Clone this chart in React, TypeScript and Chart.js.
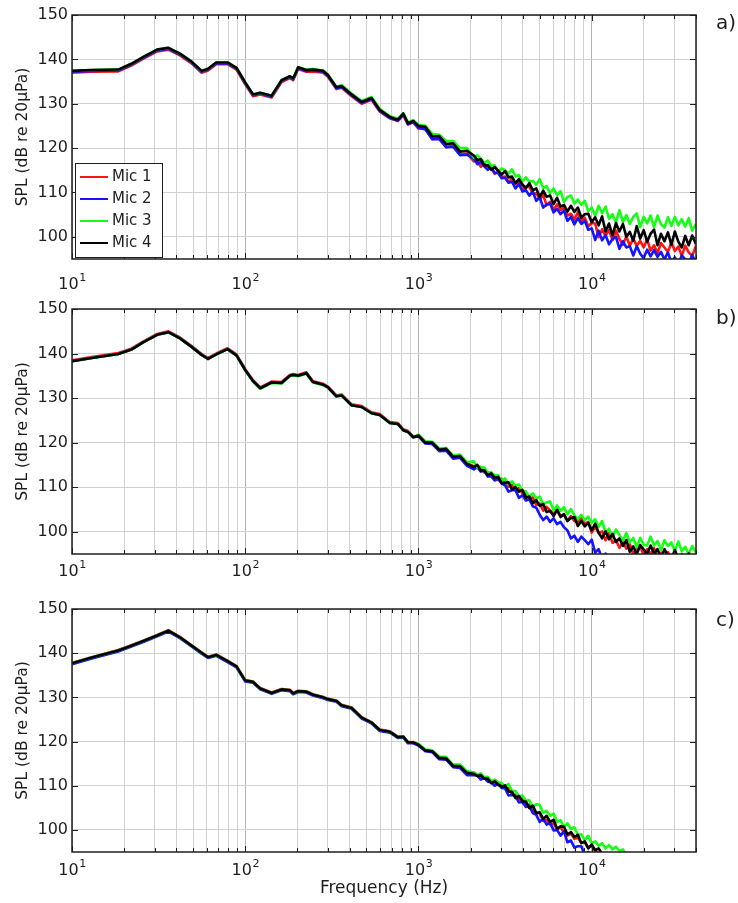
import React, { useEffect, useRef } from "react";
import { Chart, registerables } from "chart.js";

Chart.register(...registerables);

const FONT = "'DejaVu Sans', 'Liberation Sans', Arial, sans-serif";
const TEXT = "#1e1e1e";

// ---------- data ----------
const FREQ_HZ = [
  10, 13, 18.5, 22, 26, 31, 36, 42, 49, 56,
  61, 68, 79, 89, 100, 111, 122, 142, 162, 181,
  189, 202, 225, 246, 282, 300, 336, 360, 411, 470,
  536, 598, 684, 760, 817, 870, 933, 1000, 1096, 1202,
  1318, 1445, 1585, 1738, 1905,
  2089, 2188, 2291, 2399, 2512, 2630, 2754, 2884, 3020, 3162,
  3311, 3467, 3631, 3802, 3981, 4169, 4365, 4571, 4786, 5012,
  5248, 5495, 5754, 6026, 6310, 6607, 6918, 7244, 7586, 7943,
  8318, 8710, 9120, 9550, 10000, 10471, 10965, 11482, 12023, 12589,
  13183, 13804, 14454, 15136, 15849, 16596, 17378, 18197, 19055, 19953,
  20893, 21878, 22909, 23988, 25119, 26303, 27542, 28840, 30200, 31623,
  33113, 34674, 36308, 38019, 40000,
];

const MIC_LABELS = ["Mic 1", "Mic 2", "Mic 3", "Mic 4"];
const MIC_COLORS = ["#ff1414", "#1414ff", "#14ff14", "#000000"];

// Panel a)
const A_MIC1 = [
  137.0, 137.2, 137.3, 138.6, 140.2, 141.8, 142.2, 140.9, 139.1, 137.0,
  137.5, 138.9, 138.9, 137.7, 134.4, 131.7, 132.1, 131.4, 134.9, 135.8,
  135.3, 137.8, 137.2, 137.3, 137.0, 136.1, 133.3, 133.6, 131.7, 130.0,
  130.9, 128.2, 126.7, 126.1, 127.4, 125.3, 125.8, 124.4, 124.4, 122.0,
  122.2, 120.2, 120.6, 118.6, 118.8,
  117.0, 117.1, 115.8, 116.5, 115.4, 115.5, 114.2, 114.8, 113.4, 113.6,
  112.3, 113.2, 111.9, 112.5, 110.6, 111.2, 111.3, 109.7, 109.8, 108.5,
  109.4, 107.1, 107.9, 106.0, 107.3, 106.0, 106.6, 104.8, 105.2, 103.9,
  105.5, 103.6, 104.3, 102.4, 103.1, 103.0, 99.9, 101.7, 100.2, 101.6,
  99.3, 101.4, 99.5, 98.2, 100.1, 98.0, 99.6, 98.0, 99.1, 97.6,
  99.4, 96.9, 98.1, 96.3, 98.6, 97.6, 96.6, 98.7, 96.8, 97.8,
  95.7, 98.0, 96.5, 95.7, 98.0,
];
const A_MIC2 = [
  137.2, 137.4, 137.5, 138.8, 140.4, 142.0, 142.4, 141.1, 139.3, 137.2,
  137.7, 139.1, 139.1, 137.9, 134.6, 131.9, 132.3, 131.6, 135.1, 136.0,
  135.5, 138.0, 137.4, 137.5, 137.2, 136.3, 133.5, 133.8, 131.9, 130.2,
  131.1, 128.4, 126.8, 126.2, 127.6, 125.4, 125.9, 124.6, 124.2, 122.0,
  122.0, 120.2, 120.3, 118.4, 118.5,
  117.6, 116.4, 116.9, 115.9, 115.1, 115.7, 114.4, 114.4, 113.2, 113.3,
  112.2, 112.4, 110.9, 111.9, 110.2, 110.5, 109.3, 110.2, 108.1, 108.9,
  106.6, 107.3, 107.5, 105.5, 106.3, 105.1, 105.9, 103.6, 104.5, 102.8,
  104.2, 102.9, 103.6, 101.6, 101.9, 99.3, 101.4, 99.2, 100.4, 98.3,
  99.5, 100.0, 97.3, 99.0, 97.6, 97.9, 95.8, 97.9, 96.2, 95.2,
  97.1, 95.6, 97.0, 95.5, 96.6, 94.9, 96.5, 94.2, 95.4, 93.7,
  95.8, 94.9, 93.9, 95.9, 94.1,
];
const A_MIC3 = [
  137.4, 137.6, 137.7, 139.0, 140.6, 142.2, 142.6, 141.3, 139.5, 137.4,
  137.9, 139.3, 139.3, 138.1, 134.8, 132.1, 132.5, 131.8, 135.3, 136.2,
  135.7, 138.2, 137.7, 137.8, 137.5, 136.6, 133.8, 134.2, 132.3, 130.6,
  131.5, 128.8, 127.2, 126.6, 127.9, 125.8, 126.3, 125.2, 125.0, 123.2,
  123.0, 121.6, 121.6, 120.0, 120.0,
  117.8, 118.4, 117.6, 116.7, 117.2, 116.0, 116.1, 114.8, 115.4, 115.0,
  114.2, 115.2, 113.6, 113.9, 112.4, 113.4, 112.4, 112.6, 111.7, 113.0,
  111.0, 111.4, 109.8, 110.9, 109.4, 110.3, 107.9, 109.0, 109.3, 107.5,
  108.4, 107.2, 108.1, 105.8, 106.6, 104.7, 107.0, 105.3, 106.8, 104.1,
  105.1, 103.2, 106.0, 103.3, 104.9, 102.9, 104.5, 105.3, 102.2, 104.5,
  103.0, 104.8, 102.2, 104.8, 102.8, 102.1, 104.4, 102.5, 104.5, 102.6,
  104.0, 102.3, 104.2, 101.4, 102.9,
];
const A_MIC4 = [
  137.4, 137.6, 137.7, 139.0, 140.6, 142.2, 142.6, 141.3, 139.5, 137.4,
  137.9, 139.3, 139.3, 138.1, 134.8, 132.1, 132.5, 131.8, 135.3, 136.2,
  135.7, 138.2, 137.6, 137.7, 137.4, 136.5, 133.7, 134.0, 132.1, 130.4,
  131.3, 128.6, 127.0, 126.4, 127.8, 125.6, 126.1, 125.0, 124.8, 122.6,
  122.7, 120.9, 121.1, 119.2, 119.4,
  118.3, 117.3, 117.5, 116.1, 116.2, 115.1, 115.7, 114.9, 114.0, 114.8,
  113.4, 113.6, 112.1, 113.0, 111.8, 111.0, 112.1, 110.5, 110.9, 109.0,
  110.4, 109.0, 109.3, 107.4, 108.8, 106.8, 107.2, 105.7, 107.0, 105.6,
  106.6, 104.3, 105.1, 105.2, 103.3, 104.4, 102.6, 104.6, 101.2, 103.0,
  100.3, 103.1, 101.2, 102.9, 100.0, 101.1, 99.1, 102.4, 99.6, 101.5,
  98.9, 100.7, 101.6, 98.1, 100.7, 99.0, 101.0, 98.2, 101.2, 98.9,
  97.6, 100.2, 98.1, 100.3, 98.3,
];

// Panel b)
const B_MIC1 = [
  138.5, 139.2, 140.1, 141.1, 142.8, 144.4, 145.0, 143.6, 141.7, 139.9,
  139.0, 140.0, 141.2, 139.8, 136.5, 134.0, 132.4, 133.7, 133.6, 135.2,
  135.4, 135.2, 135.8, 133.8, 133.2, 132.6, 130.6, 130.8, 128.6, 128.2,
  126.8, 126.4, 124.6, 124.4, 123.0, 122.6, 121.4, 121.5, 120.1, 119.9,
  118.5, 118.5, 116.9, 116.9, 115.3,
  114.7, 114.7, 114.5, 113.3, 113.4, 112.6, 112.7, 111.6, 111.9, 110.9,
  110.1, 110.5, 109.4, 109.8, 108.6, 108.7, 107.5, 107.7, 106.0, 106.3,
  104.7, 105.6, 104.8, 103.9, 104.9, 103.6, 103.9, 102.5, 103.5, 102.4,
  102.2, 103.3, 101.8, 102.2, 99.8, 101.1, 99.7, 100.1, 98.1, 99.7,
  97.5, 98.1, 96.4, 97.8, 96.2, 97.2, 95.0, 96.1, 96.7, 94.8,
  96.1, 95.0, 96.3, 94.2, 95.3, 93.7, 95.4, 94.3, 95.3, 93.5,
  94.2, 92.9, 94.9, 93.1, 94.2,
];
const B_MIC2 = [
  138.3, 139.0, 139.9, 140.9, 142.6, 144.2, 144.8, 143.4, 141.5, 139.7,
  138.8, 139.8, 141.0, 139.6, 136.3, 133.8, 132.2, 133.5, 133.4, 135.0,
  135.2, 135.0, 135.6, 133.6, 133.0, 132.4, 130.4, 130.6, 128.4, 128.0,
  126.6, 126.2, 124.4, 124.2, 122.8, 122.4, 121.2, 121.4, 119.8, 119.7,
  118.1, 118.2, 116.4, 116.6, 114.8,
  114.0, 114.5, 113.5, 113.7, 112.4, 112.4, 111.5, 111.9, 110.8, 110.4,
  109.0, 109.3, 109.3, 107.6, 108.2, 107.0, 107.3, 105.7, 105.4, 103.8,
  102.6, 103.4, 102.2, 103.0, 101.7, 102.2, 101.0, 100.3, 98.5, 99.1,
  97.7, 98.9, 98.1, 97.2, 98.2, 95.3, 96.1, 94.0, 95.1, 93.3,
  94.0, 92.7, 93.3, 92.5, 92.1, 91.7, 91.6, 91.4, 91.3, 91.1,
  91.0, 90.8, 90.7, 90.6, 90.4, 90.3, 90.1, 90.0, 89.8, 89.7,
  89.6, 89.4, 89.3, 89.1, 89.0,
];
const B_MIC3 = [
  138.3, 139.0, 139.9, 140.9, 142.6, 144.2, 144.8, 143.4, 141.5, 139.7,
  138.8, 139.8, 141.0, 139.6, 136.2, 133.7, 132.1, 133.4, 133.3, 134.9,
  135.1, 134.9, 135.5, 133.5, 132.9, 132.3, 130.4, 130.6, 128.4, 128.0,
  126.6, 126.2, 124.4, 124.2, 122.8, 122.4, 121.2, 121.8, 120.3, 120.2,
  118.7, 118.8, 117.1, 117.3, 115.6,
  115.8, 114.4, 114.5, 114.4, 113.2, 113.4, 112.6, 112.7, 111.4, 112.0,
  110.6, 111.3, 110.3, 110.6, 109.1, 109.1, 107.8, 108.6, 107.5, 107.9,
  106.1, 106.6, 106.8, 104.8, 105.9, 104.7, 105.5, 103.9, 105.1, 103.7,
  102.8, 103.8, 102.6, 103.4, 102.0, 102.8, 101.1, 102.4, 99.8, 100.7,
  98.7, 100.5, 99.3, 98.0, 99.7, 97.6, 98.6, 96.5, 98.6, 97.1,
  96.9, 98.9, 96.9, 97.9, 95.9, 98.1, 96.8, 97.6, 95.6, 97.8,
  95.6, 96.6, 94.9, 96.8, 95.3,
];
const B_MIC4 = [
  138.3, 139.0, 139.9, 140.9, 142.6, 144.2, 144.8, 143.4, 141.5, 139.7,
  138.8, 139.8, 141.0, 139.6, 136.3, 133.8, 132.2, 133.5, 133.4, 135.0,
  135.2, 135.0, 135.6, 133.6, 133.0, 132.4, 130.4, 130.6, 128.4, 128.0,
  126.6, 126.2, 124.4, 124.2, 122.8, 122.4, 121.2, 121.6, 120.0, 120.0,
  118.4, 118.6, 116.8, 117.0, 115.2,
  114.5, 115.0, 113.7, 113.8, 112.7, 113.1, 112.1, 112.3, 110.9, 111.0,
  111.1, 109.5, 110.0, 109.0, 109.4, 107.6, 107.9, 106.4, 107.1, 105.8,
  106.2, 104.4, 104.7, 103.5, 104.9, 103.3, 103.9, 102.4, 103.1, 103.3,
  101.3, 102.4, 101.2, 102.0, 100.3, 101.8, 99.8, 98.5, 100.1, 98.3,
  99.5, 97.7, 98.5, 96.8, 98.1, 95.5, 96.7, 94.9, 97.0, 96.0,
  95.0, 96.9, 95.1, 96.1, 94.0, 96.1, 94.6, 93.9, 95.9, 93.9,
  94.9, 92.9, 95.1, 93.8, 94.6,
];

// Panel c)
const C_MIC1 = [
  137.8, 139.1, 140.7, 141.8, 142.9, 144.1, 145.2, 143.7, 141.8, 140.2,
  139.2, 139.7, 138.3, 137.1, 133.9, 133.6, 132.1, 131.1, 131.9, 131.7,
  131.0, 131.5, 131.4, 130.7, 130.1, 129.7, 129.3, 128.3, 127.7, 125.5,
  124.4, 122.7, 122.3, 121.1, 121.2, 119.9, 119.9, 119.2, 118.1, 117.7,
  116.4, 116.0, 114.6, 114.2, 113.0,
  113.0, 112.2, 112.2, 111.6, 111.7, 110.7, 110.8, 110.1, 110.2, 109.4,
  109.4, 108.1, 107.9, 106.8, 107.1, 105.8, 105.7, 104.5, 103.9, 103.8,
  102.0, 102.3, 101.2, 101.5, 100.1, 100.6, 99.4, 98.7, 99.2, 98.0,
  98.3, 97.1, 97.2, 96.0, 96.4, 95.2, 94.7, 94.2, 93.7, 93.2,
  92.7, 92.2, 91.7, 91.2, 90.7, 90.2, 89.7, 89.2, 88.7, 88.2,
  87.7, 87.2, 86.7, 86.2, 85.7, 85.2, 84.7, 84.2, 83.7, 83.2,
  82.7, 82.2, 81.7, 81.2, 80.7,
];
const C_MIC2 = [
  137.5, 138.8, 140.4, 141.5, 142.6, 143.8, 144.9, 143.4, 141.5, 139.9,
  138.9, 139.4, 138.0, 136.8, 133.6, 133.3, 131.8, 130.8, 131.6, 131.4,
  130.7, 131.2, 131.1, 130.4, 129.8, 129.4, 129.0, 128.0, 127.4, 125.2,
  124.1, 122.4, 122.0, 120.8, 120.9, 119.6, 119.6, 119.1, 117.8, 117.6,
  116.0, 115.9, 114.2, 114.0, 112.4,
  112.4, 112.3, 111.4, 111.8, 110.9, 110.8, 110.0, 110.4, 109.5, 109.4,
  107.8, 107.9, 107.7, 106.2, 106.3, 105.2, 105.4, 103.8, 103.4, 101.8,
  102.6, 101.2, 101.6, 99.9, 100.0, 98.7, 99.7, 97.2, 97.6, 96.0,
  96.3, 96.3, 94.3, 95.0, 93.8, 93.4, 92.9, 92.4, 91.9, 91.4,
  90.9, 90.4, 89.9, 89.4, 88.9, 88.4, 87.9, 87.4, 86.9, 86.4,
  85.9, 85.4, 84.9, 84.4, 83.9, 83.4, 82.9, 82.4, 81.9, 81.4,
  80.9, 80.4, 79.9, 79.4, 78.9,
];
const C_MIC3 = [
  137.7, 139.0, 140.6, 141.7, 142.8, 144.0, 145.1, 143.6, 141.7, 140.1,
  139.1, 139.6, 138.2, 137.0, 133.8, 133.5, 132.0, 131.0, 131.8, 131.6,
  130.9, 131.4, 131.3, 130.6, 130.0, 129.6, 129.2, 128.2, 127.6, 125.4,
  124.3, 122.6, 122.2, 121.0, 121.1, 119.8, 119.8, 119.5, 118.2, 118.0,
  116.6, 116.5, 114.8, 114.8, 113.3,
  113.0, 112.5, 112.8, 111.9, 112.0, 111.0, 111.4, 110.8, 110.6, 109.8,
  110.4, 108.8, 108.8, 107.5, 107.8, 106.6, 106.7, 105.1, 105.8, 105.7,
  103.9, 104.3, 103.2, 103.7, 101.8, 102.2, 100.6, 101.5, 100.2, 100.6,
  98.9, 99.0, 97.7, 98.7, 97.0, 97.4, 96.4, 97.0, 95.8, 96.6,
  95.6, 96.2, 95.2, 95.6, 94.2, 93.5, 93.0, 92.5, 92.0, 91.5,
  91.0, 90.5, 90.0, 89.5, 89.0, 88.5, 88.0, 87.5, 87.0, 86.5,
  86.0, 85.5, 85.0, 84.5, 84.0,
];
const C_MIC4 = [
  137.7, 139.0, 140.6, 141.7, 142.8, 144.0, 145.1, 143.6, 141.7, 140.1,
  139.1, 139.6, 138.2, 137.0, 133.8, 133.5, 132.0, 131.0, 131.8, 131.6,
  130.9, 131.4, 131.3, 130.6, 130.0, 129.6, 129.2, 128.2, 127.6, 125.4,
  124.3, 122.6, 122.2, 121.0, 121.1, 119.8, 119.8, 119.3, 118.0, 117.8,
  116.3, 116.2, 114.5, 114.4, 112.9,
  112.7, 112.2, 112.4, 111.6, 111.6, 110.6, 111.0, 110.3, 109.7, 110.1,
  108.7, 108.6, 107.2, 107.7, 106.5, 106.4, 104.9, 105.5, 103.8, 104.0,
  102.5, 103.2, 101.8, 102.3, 100.3, 100.8, 100.7, 99.0, 99.5, 98.4,
  98.9, 97.0, 97.4, 95.8, 96.7, 95.4, 95.8, 94.6, 94.1, 93.6,
  93.1, 92.6, 92.1, 91.6, 91.1, 90.6, 90.1, 89.6, 89.1, 88.6,
  88.1, 87.6, 87.1, 86.6, 86.1, 85.6, 85.1, 84.6, 84.1, 83.6,
  83.1, 82.6, 82.1, 81.6, 81.1,
];

// axes
const X_MIN = 10;
const X_MAX = 40000;
const Y_MIN = 95;
const Y_MAX = 150;
const Y_TICKS = [100, 110, 120, 130, 140, 150];
const X_DECADES = [10, 100, 1000, 10000];
const X_DECADE_BASE = "10";
const X_DECADE_EXPONENTS = ["1", "2", "3", "4"];
const X_MULTIPLIERS = [1, 2, 3, 4, 5, 6, 7, 8, 9];
const Y_TITLE = "SPL (dB re 20μPa)";
const X_TITLE = "Frequency (Hz)";
const PANEL_TAGS = ["a)", "b)", "c)"];

const X_GRID = X_DECADES.flatMap((d) => X_MULTIPLIERS.map((m) => d * m)).filter(
  (v) => v <= X_MAX
);

const framePlugin = {
  id: "frame",
  afterDraw(chart: any, _args: any, opts: any) {
    const { ctx, chartArea } = chart;
    const { left, right, top, bottom } = chartArea;
    const xs = chart.scales.x;
    const ys = chart.scales.y;
    ctx.save();
    ctx.strokeStyle = TEXT;
    ctx.lineWidth = 1;
    ctx.beginPath();
    for (const v of X_GRID) {
      const px = Math.round(xs.getPixelForValue(v)) + 0.5;
      const len = X_DECADES.includes(v) ? 6 : 4;
      ctx.moveTo(px, bottom);
      ctx.lineTo(px, bottom - len);
      ctx.moveTo(px, top);
      ctx.lineTo(px, top + len);
    }
    for (const v of Y_TICKS) {
      const py = Math.round(ys.getPixelForValue(v)) + 0.5;
      ctx.moveTo(left, py);
      ctx.lineTo(left + 6, py);
      ctx.moveTo(right, py);
      ctx.lineTo(right - 6, py);
    }
    ctx.stroke();
    ctx.lineWidth = 1.5;
    ctx.strokeRect(left, top, right - left, bottom - top);

    // decade labels 10^n with raised exponent
    ctx.fillStyle = TEXT;
    ctx.textAlign = "left";
    ctx.textBaseline = "middle";
    X_DECADES.forEach((d, i) => {
      const px = xs.getPixelForValue(d);
      ctx.font = `16px ${FONT}`;
      const w1 = ctx.measureText(X_DECADE_BASE).width;
      ctx.font = `11px ${FONT}`;
      const w2 = ctx.measureText(X_DECADE_EXPONENTS[i]).width;
      const x0 = px - (w1 + w2) / 2;
      const yy = bottom + opts.labelDy;
      ctx.font = `16px ${FONT}`;
      ctx.fillText(X_DECADE_BASE, x0, yy);
      ctx.font = `11px ${FONT}`;
      ctx.fillText(X_DECADE_EXPONENTS[i], x0 + w1 + 0.5, yy - 7);
    });

    if (opts.legend) {
      const bx = left + 3;
      const by = top + 148;
      const bw = 87;
      const bh = 94;
      ctx.fillStyle = "#ffffff";
      ctx.fillRect(bx, by, bw, bh);
      ctx.lineWidth = 1;
      ctx.strokeStyle = TEXT;
      ctx.strokeRect(bx + 0.5, by + 0.5, bw, bh);
      ctx.font = `15px ${FONT}`;
      ctx.textBaseline = "middle";
      ctx.textAlign = "left";
      MIC_LABELS.forEach((lab, i) => {
        const yy = by + 14 + i * 22;
        ctx.strokeStyle = MIC_COLORS[i];
        ctx.lineWidth = 2;
        ctx.beginPath();
        ctx.moveTo(bx + 5, yy);
        ctx.lineTo(bx + 33, yy);
        ctx.stroke();
        ctx.fillStyle = TEXT;
        ctx.fillText(lab, bx + 37, yy);
      });
    }

    ctx.fillStyle = TEXT;
    ctx.font = `20px ${FONT}`;
    ctx.textBaseline = "middle";
    ctx.textAlign = "left";
    ctx.fillText(opts.tag, right + 20, top + opts.tagDy);
    ctx.restore();
  },
};

type PanelProps = {
  top: number;
  height: number;
  plotH: number;
  series: number[][];
  tag: string;
  tagDy: number;
  labelDy: number;
  showXTitle: boolean;
  showLegend: boolean;
};

function Panel(p: PanelProps) {
  const ref = useRef<HTMLCanvasElement>(null);
  useEffect(() => {
    const canvas = ref.current!;
    const PAD_TOP = 15;
    const axisH = p.height - PAD_TOP - p.plotH;
    const chart = new Chart(canvas, {
      type: "line",
      data: {
        datasets: p.series.map((vals, i) => ({
          label: MIC_LABELS[i],
          data: FREQ_HZ.map((f, j) => ({ x: f, y: vals[j] })),
          borderColor: MIC_COLORS[i],
          backgroundColor: MIC_COLORS[i],
          borderWidth: 2.6,
          borderJoinStyle: "round",
          pointRadius: 0,
          tension: 0,
          clip: 0,
          order: p.series.length - i,
        })),
      },
      options: {
        responsive: false,
        animation: false,
        events: [],
        layout: { padding: { top: PAD_TOP, right: 42, left: 0, bottom: 0 } },
        plugins: {
          legend: { display: false },
          tooltip: { enabled: false },
          frame: { tag: p.tag, tagDy: p.tagDy, legend: p.showLegend, labelDy: p.labelDy },
        } as any,
        scales: {
          x: {
            type: "logarithmic",
            min: X_MIN,
            max: X_MAX,
            afterBuildTicks: (s: any) => {
              s.ticks = X_GRID.map((v) => ({ value: v }));
            },
            afterFit: (s: any) => {
              s.height = axisH;
            },
            grid: {
              color: (c: any) =>
                c.tick && X_DECADES.includes(c.tick.value) ? "#b4b4b4" : "#d2d2d2",
              lineWidth: 1,
              drawTicks: false,
            },
            border: { display: false },
            ticks: {
              autoSkip: false,
              maxRotation: 0,
              minRotation: 0,
              padding: 0,
              font: { family: FONT, size: 16 },
              callback: () => "",
            },
            title: {
              display: p.showXTitle,
              text: X_TITLE,
              color: TEXT,
              font: { family: FONT, size: 17 },
              padding: { top: 0, bottom: 4 },
            },
          },
          y: {
            type: "linear",
            min: Y_MIN,
            max: Y_MAX,
            afterBuildTicks: (s: any) => {
              s.ticks = Y_TICKS.map((v) => ({ value: v }));
            },
            afterFit: (s: any) => {
              s.width = 72;
            },
            grid: { color: "#d2d2d2", lineWidth: 1, drawTicks: false },
            border: { display: false },
            ticks: {
              padding: 4,
              color: TEXT,
              font: { family: FONT, size: 16 },
            },
            title: {
              display: true,
              text: Y_TITLE,
              color: TEXT,
              font: { family: FONT, size: 15.5 },
              padding: { top: 14, bottom: 0 },
            },
          },
        },
      },
      plugins: [framePlugin],
    } as any);
    return () => chart.destroy();
  }, []);
  return (
    <canvas
      ref={ref}
      width={738}
      height={p.height}
      style={{ position: "absolute", left: 0, top: p.top, width: 738, height: p.height }}
    />
  );
}

export default function App() {
  return (
    <div
      style={{
        position: "absolute",
        left: 0,
        top: 0,
        width: 738,
        height: 903,
        background: "#ffffff",
        overflow: "hidden",
      }}
    >
      <Panel
        top={0}
        height={300}
        plotH={244}
        series={[A_MIC1, A_MIC2, A_MIC3, A_MIC4]}
        tag={PANEL_TAGS[0]}
        tagDy={9}
        labelDy={26}
        showXTitle={false}
        showLegend={true}
      />
      <Panel
        top={294}
        height={301}
        plotH={245}
        series={[B_MIC1, B_MIC2, B_MIC3, B_MIC4]}
        tag={PANEL_TAGS[1]}
        tagDy={10}
        labelDy={18}
        showXTitle={false}
        showLegend={false}
      />
      <Panel
        top={594}
        height={309}
        plotH={243}
        series={[C_MIC1, C_MIC2, C_MIC3, C_MIC4]}
        tag={PANEL_TAGS[2]}
        tagDy={12}
        labelDy={19}
        showXTitle={true}
        showLegend={false}
      />
    </div>
  );
}
